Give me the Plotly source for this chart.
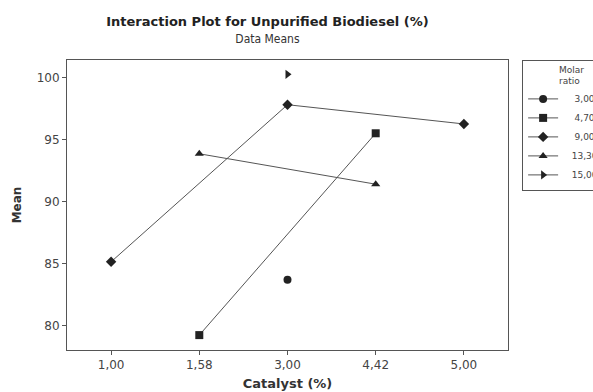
import plotly.graph_objects as go

categories = ["1,00", "1,58", "3,00", "4,42", "5,00"]

ratio_labels = ["3,00", "4,70", "9,00", "13,30", "15,00"]
ratio_symbols = ["circle", "square", "diamond", "triangle-up", "triangle-right"]

# Means per molar ratio (x category, y mean)
x_300 = ["3,00"]
y_300 = [83.7]
x_470 = ["1,58", "4,42"]
y_470 = [79.25, 95.5]
x_900 = ["1,00", "3,00", "5,00"]
y_900 = [85.15, 97.8, 96.25]
x_1330 = ["1,58", "4,42"]
y_1330 = [93.85, 91.4]
x_1500 = ["3,00"]
y_1500 = [100.25]

series_x = [x_300, x_470, x_900, x_1330, x_1500]
series_y = [y_300, y_470, y_900, y_1330, y_1500]

y_ticks = [80, 85, 90, 95, 100]

fig = go.Figure()
for lab, sym, xs, ys in zip(ratio_labels, ratio_symbols, series_x, series_y):
    pad = "\u00a0" * (3 if len(lab) > 4 else 4)
    fig.add_trace(go.Scatter(
        x=xs, y=ys, name=pad + lab, mode="lines+markers",
        line=dict(color="#555555", width=1),
        marker=dict(symbol=sym, size=8, color="#222222"),
    ))

fig.update_layout(
    width=593, height=392,
    margin=dict(l=67, r=85, t=60, b=42, autoexpand=False),
    paper_bgcolor="white", plot_bgcolor="white",
    font=dict(family="DejaVu Sans, sans-serif", size=12, color="#444444"),
    title=dict(
        text="<b>Interaction Plot for Unpurified Biodiesel (%)</b><br><span style='font-size:12px;font-family:DejaVu Sans Condensed;color:#333'>Data Means</span>",
        x=0.451, xanchor="center", y=0.934, yanchor="top",
        font=dict(family="DejaVu Sans, sans-serif", size=13, color="#222222"),
    ),
    xaxis=dict(
        type="category", categoryorder="array", categoryarray=categories,
        range=[-0.5, 4.5], showgrid=False, zeroline=False,
        showline=True, linecolor="#555555", linewidth=1, mirror=True,
        ticks="outside", ticklen=4, tickcolor="#555555",
        tickfont=dict(size=12, color="#444444"),
        title=dict(text="<b>Catalyst (%)</b>", font=dict(size=13, color="#333333"), standoff=7),
    ),
    yaxis=dict(
        range=[78.05, 101.4], tickvals=y_ticks, showgrid=False, zeroline=False,
        showline=True, linecolor="#555555", linewidth=1, mirror=True,
        ticks="outside", ticklen=4, tickcolor="#555555",
        tickfont=dict(size=12, color="#444444"),
        title=dict(text="<b>Mean</b>", font=dict(size=12, color="#333333"), standoff=12),
    ),
    legend=dict(
        x=1.032, xanchor="left", y=1.0, yanchor="top",
        bordercolor="#555555", borderwidth=1, bgcolor="white",
        font=dict(size=9, color="#444444"),
        title=dict(text="\u00a0\u00a0\u00a0\u00a0\u00a0\u00a0Molar<br>\u00a0\u00a0\u00a0\u00a0\u00a0\u00a0ratio", side="top center", font=dict(size=9, color="#444444")),
        itemwidth=30, tracegroupgap=0,
    ),
)

fig.write_html("out.html", config={"displayModeBar": False},
               post_script="document.body.style.margin='0';")
